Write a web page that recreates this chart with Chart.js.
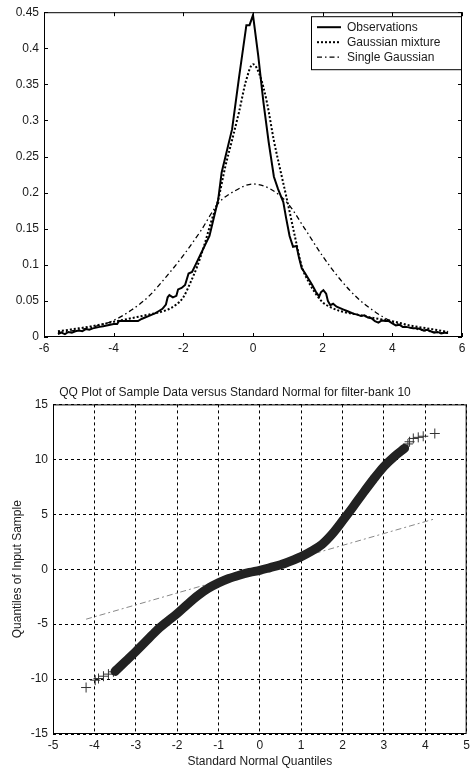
<!DOCTYPE html>
<html>
<head>
<meta charset="utf-8">
<script src="https://cdn.jsdelivr.net/npm/chart.js@4/dist/chart.umd.min.js"></script>
<style>
  body { margin: 0; background: #fff; }
  canvas { position: absolute; left: 0; }
  #densityChart { top: 0; }
  #qqChart { top: 365px; }
</style>
</head>
<body>
<canvas id="densityChart" width="474" height="365"></canvas>
<canvas id="qqChart" width="474" height="404"></canvas>
<script>
// ---- top plot: density of filter output ----
const obsX = [-5.6,-5.5,-5.4,-5.3,-5.2,-5.1,-5.0,-4.9,-4.8,-4.7,-4.6,-4.5,-4.4,-4.3,-4.2,-4.1,-4.0,-3.9,-3.85,-3.6,-3.3,-3.2,-3.1,-3.0,-2.9,-2.8,-2.7,-2.6,-2.5,-2.45,-2.4,-2.3,-2.2,-2.15,-2.05,-1.95,-1.85,-1.75,-1.65,-1.5,-1.35,-1.25,-1.1,-1.0,-0.9,-0.6,-0.4,-0.19,-0.1,0,0.15,0.3,0.45,0.6,0.72,0.87,0.95,1.05,1.15,1.25,1.32,1.4,1.5,1.6,1.7,1.8,1.9,1.95,2.02,2.1,2.15,2.22,2.3,2.4,2.5,2.6,2.7,2.8,2.9,3.0,3.1,3.2,3.3,3.4,3.5,3.6,3.7,3.8,3.9,4.0,4.1,4.2,4.3,4.4,4.5,4.6,4.7,4.8,4.9,5.0,5.1,5.2,5.3,5.4,5.5,5.6];
const obsY = [0.004,0.006,0.004,0.007,0.006,0.008,0.009,0.008,0.011,0.010,0.012,0.013,0.014,0.015,0.016,0.017,0.018,0.018,0.022,0.022,0.022,0.025,0.027,0.029,0.031,0.033,0.036,0.039,0.045,0.055,0.058,0.055,0.057,0.066,0.068,0.072,0.088,0.090,0.100,0.115,0.130,0.140,0.170,0.190,0.228,0.288,0.360,0.432,0.432,0.446,0.390,0.325,0.270,0.222,0.205,0.187,0.165,0.140,0.125,0.126,0.110,0.095,0.088,0.080,0.072,0.063,0.056,0.062,0.065,0.060,0.050,0.044,0.046,0.042,0.040,0.038,0.036,0.034,0.032,0.031,0.029,0.030,0.027,0.026,0.022,0.020,0.023,0.022,0.022,0.019,0.016,0.017,0.014,0.014,0.013,0.012,0.012,0.011,0.009,0.010,0.008,0.006,0.007,0.005,0.006,0.006];

const mixX = [-5.6,-5,-4.5,-4,-3.5,-3,-2.5,-2.2,-2,-1.8,-1.6,-1.4,-1.2,-1,-0.8,-0.6,-0.4,-0.2,0,0.2,0.4,0.6,0.8,1,1.2,1.4,1.6,1.8,2,2.2,2.5,3,3.5,4,4.5,5,5.6];
const mixY = [0.008,0.012,0.016,0.021,0.026,0.031,0.037,0.045,0.055,0.075,0.098,0.127,0.160,0.190,0.235,0.273,0.312,0.355,0.378,0.362,0.325,0.272,0.228,0.185,0.140,0.098,0.076,0.060,0.048,0.042,0.036,0.031,0.026,0.022,0.016,0.012,0.007];

const gaussX = [-5.6,-5,-4.5,-4,-3.5,-3,-2.5,-2,-1.5,-1,-0.5,0,0.5,1,1.5,2,2.5,3,3.5,4,4.5,5,5.6];
const gaussY = [0.006,0.010,0.015,0.023,0.037,0.056,0.083,0.113,0.147,0.185,0.203,0.212,0.205,0.185,0.149,0.112,0.080,0.054,0.035,0.021,0.013,0.008,0.005];

// ---- bottom plot: QQ plot ----
const qqBandX = [-3.5,-3.25,-3,-2.75,-2.5,-2.25,-2,-1.75,-1.5,-1.25,-1,-0.75,-0.5,-0.25,0,0.25,0.5,0.75,1,1.25,1.5,1.75,2,2.25,2.5,2.75,3,3.25,3.5];
const qqBandY = [-9.3,-8.4,-7.5,-6.55,-5.6,-4.8,-4.05,-3.2,-2.4,-1.75,-1.25,-0.85,-0.55,-0.3,-0.1,0.15,0.4,0.75,1.15,1.65,2.25,3.2,4.4,5.65,6.95,8.2,9.35,10.25,11.0];
const qqTailX = [-4.2,-3.98,-3.9,-3.78,-3.66,-3.54,3.58,3.62,3.71,3.83,3.95,4.23];
const qqTailY = [-10.77,-10.1,-9.95,-9.74,-9.55,-9.34,11.4,11.6,11.9,12.0,12.1,12.35];
const refX = [-4.2, 4.2];
const refY = [-4.55, 4.55];

const qqTitle = "QQ Plot of Sample Data versus Standard Normal for filter-bank 10";
const qqXLabel = "Standard Normal Quantiles";
const qqYLabel = "Quantiles of Input Sample";

const pts = (xs, ys) => xs.map((x, i) => ({ x: x, y: ys[i] }));
const FONT = "'Liberation Sans', Arial, sans-serif";
const INK = "#1a1a1a";
// matlab style labels: 0.4 not 0.40, 0 not 0.00
const plainTick = (v) => String(+v.toFixed(2));

// box round the plot area, ticks pointing inwards like matlab
const matlabFrame = {
  id: "matlabFrame",
  afterDatasetsDraw(chart, args, opts) {
    const { ctx, chartArea: a, scales } = chart;
    ctx.save();
    ctx.strokeStyle = "#000";
    ctx.lineWidth = 1;
    ctx.strokeRect(a.left + 0.5, a.top + 0.5, a.right - a.left - 1, a.bottom - a.top - 1);
    if (opts.tickLen) {
      const t = opts.tickLen;
      ctx.beginPath();
      scales.x.ticks.forEach((tk) => {
        const px = Math.round(scales.x.getPixelForValue(tk.value)) + 0.5;
        ctx.moveTo(px, a.bottom); ctx.lineTo(px, a.bottom - t);
        ctx.moveTo(px, a.top); ctx.lineTo(px, a.top + t);
      });
      scales.y.ticks.forEach((tk) => {
        const py = Math.round(scales.y.getPixelForValue(tk.value)) + 0.5;
        ctx.moveTo(a.left, py); ctx.lineTo(a.left + t, py);
        ctx.moveTo(a.right, py); ctx.lineTo(a.right - t, py);
      });
      ctx.stroke();
    }
    ctx.restore();
  },
};

// legend box in the upper right corner
const boxLegend = {
  id: "boxLegend",
  afterDraw(chart, args, opts) {
    if (!opts.show) return;
    const { ctx, chartArea: a } = chart;
    const w = 150, h = 53;
    const x0 = a.right - w - 1, y0 = a.top + 4;
    ctx.save();
    ctx.fillStyle = "#fff";
    ctx.fillRect(x0, y0, w, h);
    ctx.strokeStyle = "#000";
    ctx.lineWidth = 1;
    ctx.strokeRect(x0 + 0.5, y0 + 0.5, w, h);
    ctx.font = "12px " + FONT;
    ctx.textBaseline = "middle";
    chart.data.datasets.forEach((ds, i) => {
      const yy = y0 + 11 + i * 15;
      ctx.beginPath();
      ctx.setLineDash(ds.borderDash || []);
      ctx.lineWidth = ds.borderWidth;
      ctx.strokeStyle = ds.borderColor;
      ctx.moveTo(x0 + 6, yy);
      ctx.lineTo(x0 + 30, yy);
      ctx.stroke();
      ctx.setLineDash([]);
      ctx.fillStyle = INK;
      ctx.fillText(ds.label, x0 + 36, yy);
    });
    ctx.restore();
  },
};

new Chart(document.getElementById("densityChart"), {
  type: "scatter",
  data: {
    datasets: [
      {
        label: "Observations",
        data: pts(obsX, obsY),
        showLine: true,
        borderColor: "#000",
        borderWidth: 2,
        pointRadius: 0,
      },
      {
        label: "Gaussian mixture",
        data: pts(mixX, mixY),
        showLine: true,
        borderColor: "#000",
        borderWidth: 2,
        borderDash: [2, 2],
        pointRadius: 0,
        cubicInterpolationMode: "monotone",
      },
      {
        label: "Single Gaussian",
        data: pts(gaussX, gaussY),
        showLine: true,
        borderColor: "#000",
        borderWidth: 1.3,
        borderDash: [5, 3, 1.5, 3],
        pointRadius: 0,
        cubicInterpolationMode: "monotone",
      },
    ],
  },
  options: {
    responsive: false,
    animation: false,
    layout: { padding: { top: 9, right: 12, left: 0, bottom: 0 } },
    plugins: {
      legend: { display: false },
      tooltip: { enabled: false },
      matlabFrame: { tickLen: 4 },
      boxLegend: { show: true },
    },
    scales: {
      x: {
        type: "linear",
        min: -6,
        max: 6,
        afterFit: (s) => { s.height = 28; },
        grid: { display: false, drawTicks: false },
        border: { display: false },
        ticks: { stepSize: 2, padding: 4, color: INK, font: { family: FONT, size: 12 }, callback: plainTick },
      },
      y: {
        min: 0,
        max: 0.45,
        afterFit: (s) => { s.width = 44; },
        grid: { display: false, drawTicks: false },
        border: { display: false },
        ticks: { stepSize: 0.05, padding: 5, color: INK, font: { family: FONT, size: 12 }, callback: plainTick },
      },
    },
  },
  plugins: [matlabFrame, boxLegend],
});

new Chart(document.getElementById("qqChart"), {
  type: "scatter",
  data: {
    datasets: [
      {
        label: "sample",
        data: pts(qqBandX, qqBandY),
        showLine: true,
        borderColor: "#222",
        borderWidth: 9,
        borderCapStyle: "round",
        borderJoinStyle: "round",
        pointRadius: 0,
        cubicInterpolationMode: "monotone",
      },
      {
        label: "tails",
        data: pts(qqTailX, qqTailY),
        showLine: false,
        pointStyle: "cross",
        pointRadius: 5,
        borderColor: "#333",
        borderWidth: 1,
      },
      {
        label: "fit",
        data: pts(refX, refY),
        showLine: true,
        borderColor: "#888",
        borderWidth: 1,
        borderDash: [6, 3, 2, 3],
        pointRadius: 0,
      },
    ],
  },
  options: {
    responsive: false,
    animation: false,
    layout: { padding: { top: 0, right: 4, left: 0, bottom: 0 } },
    plugins: {
      legend: { display: false },
      tooltip: { enabled: false },
      title: {
        display: true,
        text: qqTitle,
        color: INK,
        font: { family: FONT, size: 12, weight: "normal" },
        padding: { top: 20, bottom: 5 },
      },
      matlabFrame: { tickLen: 0 },
    },
    scales: {
      x: {
        type: "linear",
        min: -5,
        max: 5,
        afterFit: (s) => { s.height = 35; },
        grid: { color: "#000", drawTicks: false, lineWidth: 1 },
        border: { display: false, dash: [3, 3] },
        ticks: { stepSize: 1, padding: 4, color: INK, font: { family: FONT, size: 12 } },
        title: { display: true, text: qqXLabel, color: INK, padding: { top: 0, bottom: 0 }, font: { family: FONT, size: 12 } },
      },
      y: {
        min: -15,
        max: 15,
        afterFit: (s) => { s.width = 53; },
        grid: { color: "#000", drawTicks: false, lineWidth: 1 },
        border: { display: false, dash: [3, 3] },
        ticks: { stepSize: 5, padding: 5, color: INK, font: { family: FONT, size: 12 } },
        title: { display: true, text: qqYLabel, color: INK, padding: { top: 10, bottom: 0 }, font: { family: FONT, size: 12 } },
      },
    },
  },
  plugins: [matlabFrame],
});
</script>
</body>
</html>
